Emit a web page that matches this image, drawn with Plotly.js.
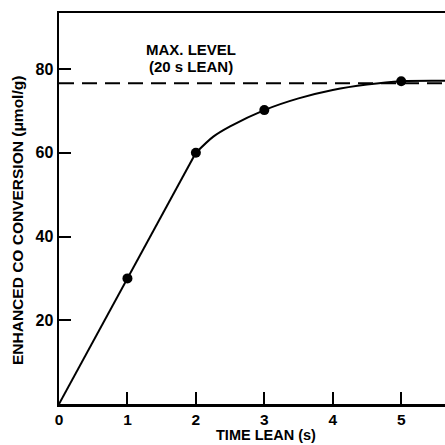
<!DOCTYPE html>
<html>
<head>
<meta charset="utf-8">
<script src="https://cdn.plot.ly/plotly-3.0.1.min.js"></script>
<style>html,body{margin:0;padding:0;background:#fff;}#chart{width:445px;height:445px;}</style>
</head>
<body>
<div id="chart"></div>
<script>
// measured points
const pointX = [1, 2, 3, 5];
const pointY = [30, 60, 70.2, 77.1];
// fitted curve: straight rise, then a bend
const riseX = [0, 1, 2];
const riseY = [0, 30, 60];
const bendX = [2, 2.25, 2.5, 3, 3.5, 4, 4.5, 5, 5.64];
const bendY = [60, 63.8, 66.3, 70.2, 73, 75, 76.3, 77.1, 77.2];
// max level (20 s lean)
const maxLevelX = [0, 5.64];
const maxLevelY = [76.6, 76.6];
const xTicks = [0, 1, 2, 3, 4, 5];
const yTicks = [20, 40, 60, 80];

const FONT = 'Liberation Sans, Arial, sans-serif';
const traces = [
  {x: maxLevelX, y: maxLevelY, mode: 'lines', line: {color: '#000', width: 2, dash: '15px,8px'}, hoverinfo: 'skip'},
  {x: riseX, y: riseY, mode: 'lines', line: {color: '#000', width: 2}},
  {x: bendX, y: bendY, mode: 'lines', line: {color: '#000', width: 2, shape: 'spline', smoothing: 0.8}},
  {x: pointX, y: pointY, mode: 'markers', marker: {color: '#000', size: 10}}
];
const py = v => (404 - v) / 391;
const px = v => (v - 59) / 386;
const layout = {
  width: 445, height: 445,
  margin: {l: 59, r: 0, t: 13, b: 41},
  paper_bgcolor: '#fff', plot_bgcolor: '#fff',
  showlegend: false,
  font: {family: FONT, color: '#000', size: 15, weight: 'bold'},
  xaxis: {
    range: [0, 5.64], tickvals: xTicks, ticktext: xTicks.map(String),
    ticks: 'inside', ticklen: 12, tickwidth: 2, tickcolor: '#000',
    showline: true, linewidth: 2.5, linecolor: '#000', mirror: true,
    showgrid: false, zeroline: false,
    tickfont: {family: FONT, size: 15.5, weight: 'bold'}
  },
  yaxis: {
    range: [0, 93.4], tickvals: yTicks, ticktext: yTicks.map(String),
    ticks: 'inside', ticklen: 12, tickwidth: 2, tickcolor: '#000',
    showline: true, linewidth: 2.5, linecolor: '#000',
    showgrid: false, zeroline: false,
    tickfont: {family: FONT, size: 16, weight: 'bold'}
  },
  annotations: [
    {text: 'MAX. LEVEL', xref: 'paper', yref: 'paper', x: px(191), y: py(49), xanchor: 'center', yanchor: 'middle', showarrow: false, font: {family: FONT, size: 15, weight: 'bold'}},
    {text: '(20 s LEAN)', xref: 'paper', yref: 'paper', x: px(191), y: py(66), xanchor: 'center', yanchor: 'middle', showarrow: false, font: {family: FONT, size: 15, weight: 'bold'}},
    {text: 'TIME LEAN (s)', xref: 'paper', yref: 'paper', x: px(266), y: py(445), xanchor: 'center', yanchor: 'bottom', showarrow: false, font: {family: FONT, size: 14.5, weight: 'bold'}},
    {text: 'ENHANCED CO CONVERSION (μmol/g)', xref: 'paper', yref: 'paper', x: px(17), y: py(221), xanchor: 'center', yanchor: 'middle', textangle: -90, showarrow: false, font: {family: FONT, size: 15.5, weight: 'bold'}}
  ]
};
Plotly.newPlot('chart', traces, layout, {displayModeBar: false, staticPlot: true});
</script>
</body>
</html>
